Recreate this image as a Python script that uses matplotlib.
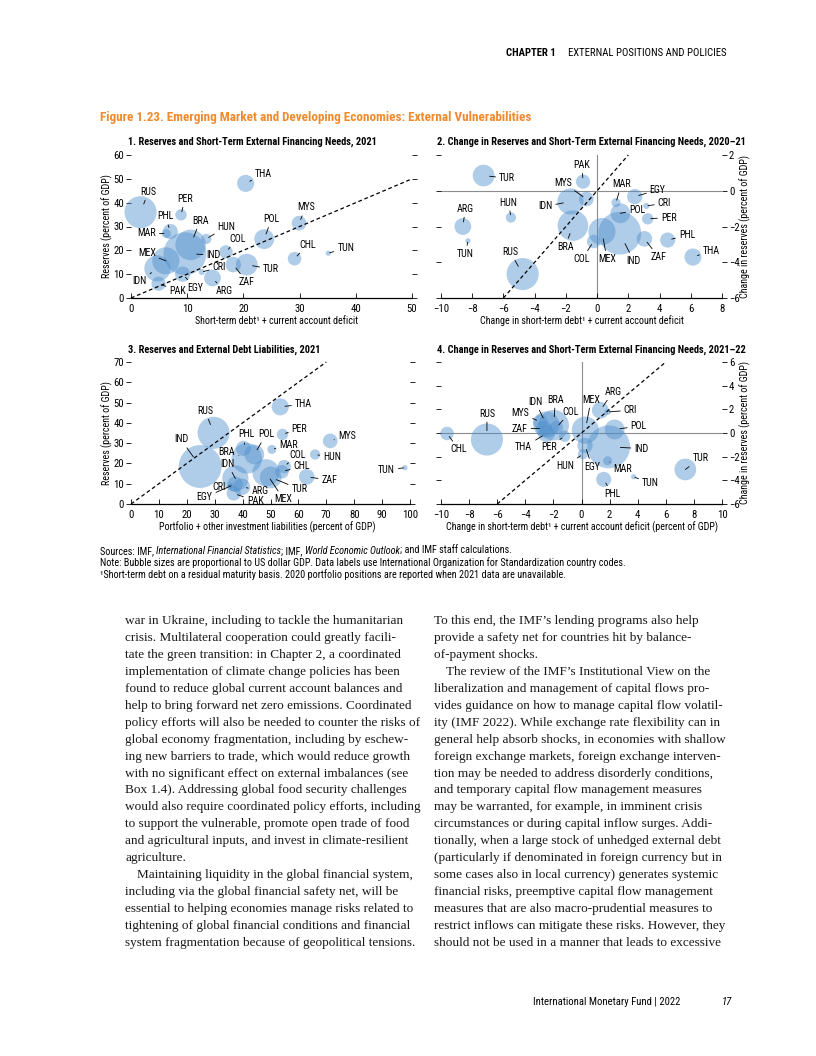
import os
import numpy as np
import matplotlib
matplotlib.use("Agg")
import matplotlib.pyplot as plt
from matplotlib import font_manager as fm

# ------------------------------------------------------------------ data
codes = ["ARG", "BRA", "CHL", "COL", "CRI", "EGY", "HUN", "IDN", "IND", "MAR", "MEX",
         "MYS", "PAK", "PER", "PHL", "POL", "RUS", "THA", "TUN", "TUR", "ZAF"]
gdp_bn = [487, 1609, 317, 314, 64, 404, 182, 1186, 3176, 142, 1273,
          373, 348, 223, 394, 679, 1779, 506, 47, 815, 419]

# Panel 1: short-term debt + CA deficit vs reserves, 2021 (% of GDP)
p1_x = [14.5, 10.6, 29.1, 16.9, 12.6, 9.2, 13.4, 4.7, 9.6, 6.3, 6.2,
        29.9, 4.9, 8.9, 7.0, 23.7, 1.7, 20.4, 35.1, 20.6, 18.2]
p1_y = [8.4, 22.3, 16.5, 19.3, 10.9, 10.0, 24.8, 12.4, 18.6, 27.0, 15.6,
        31.4, 6.0, 34.9, 27.9, 24.7, 36.0, 48.1, 18.8, 14.0, 14.0]

# Panel 2: changes 2020-21 (CHL not shown)
p2_x = [-8.6, -1.55, np.nan, -0.22, 3.15, 2.41, -5.52, -1.71, 1.45, 1.21, 0.31,
        -0.69, -0.9, 3.24, 4.52, 1.49, -4.77, 6.14, -8.27, -7.27, 3.03]
p2_y = [-2.0, -1.95, np.nan, -2.84, -0.85, -0.33, -1.5, -0.6, -2.37, -0.66, -2.28,
        -0.46, 0.51, -1.57, -2.76, -1.26, -4.66, -3.71, -2.8, 0.85, -2.69]

# Panel 3: portfolio + other investment liabilities vs reserves, 2021
p3_x = [39.7, 41.5, 54.1, 54.9, 35.8, 37.3, 66.0, 37.4, 24.8, 50.5, 48.4,
        71.4, 36.8, 54.3, 40.3, 44.2, 29.6, 53.5, 98.2, 50.1, 63.0]
p3_y = [8.5, 22.5, 15.9, 18.4, 9.0, 9.8, 24.4, 12.6, 18.5, 26.9, 15.4,
        31.1, 5.2, 34.3, 27.4, 24.4, 35.1, 47.9, 17.9, 13.1, 13.4]

# Panel 4: changes 2021-22 (PAK not shown)
p4_x = [1.34, -1.98, -9.57, -1.79, 1.86, 0.25, 0.1, -2.5, 1.93, 1.86, 0.27,
        -2.93, np.nan, -1.2, 1.58, 2.36, -6.73, -2.5, 3.71, 7.39, -2.69]
p4_y = [1.92, 0.66, -0.04, 0.46, 1.78, -1.05, -1.79, 0.72, -1.17, -2.35, 0.24,
        0.94, np.nan, -0.27, -3.92, 0.3, -0.55, -0.04, -3.7, -3.08, 0.38]

panel_titles = [
    "1. Reserves and Short-Term External Financing Needs, 2021",
    "2. Change in Reserves and Short-Term External Financing Needs, 2020\u201321",
    "3. Reserves and External Debt Liabilities, 2021",
    "4. Change in Reserves and Short-Term External Financing Needs, 2021\u201322",
]
x_labels = [
    "Short-term debt\u00b9 + current account deficit",
    "Change in short-term debt\u00b9 + current account deficit",
    "Portfolio + other investment liabilities (percent of GDP)",
    "Change in short-term debt\u00b9 + current account deficit (percent of GDP)",
]
y_labels = ["Reserves (percent of GDP)", "Change in reserves (percent of GDP)",
            "Reserves (percent of GDP)", "Change in reserves (percent of GDP)"]
x_ticks = [list(range(0, 51, 10)), list(range(-10, 9, 2)),
           list(range(0, 101, 10)), list(range(-10, 11, 2))]
y_ticks = [list(range(0, 61, 10)), list(range(-6, 3, 2)),
           list(range(0, 71, 10)), list(range(-6, 7, 2))]
ref_lines = [[0, 50], [-6, 2], [0, 70], [-6, 6]]   # 45-degree reference lines

fig_title = "Figure 1.23. Emerging Market and Developing Economies: External Vulnerabilities"
notes = [
    [("Sources: IMF, ", "normal"), ("International Financial Statistics", "italic"),
     ("; IMF, ", "normal"), ("World Economic Outlook", "italic"),
     ("; and IMF staff calculations.", "normal")],
    [("Note: Bubble sizes are proportional to US dollar GDP. Data labels use International "
      "Organization for Standardization country codes.", "normal")],
    [("\u00b9Short-term debt on a residual maturity basis. 2020 portfolio positions are "
      "reported when 2021 data are unavailable.", "normal")],
]

left_col = [
    "war in Ukraine, including to tackle the humanitarian",
    "crisis. Multilateral cooperation could greatly facili-",
    "tate the green transition: in Chapter 2, a coordinated",
    "implementation of climate change policies has been",
    "found to reduce global current account balances and",
    "help to bring forward net zero emissions. Coordinated",
    "policy efforts will also be needed to counter the risks of",
    "global economy fragmentation, including by eschew-",
    "ing new barriers to trade, which would reduce growth",
    "with no significant effect on external imbalances (see",
    "Box 1.4). Addressing global food security challenges",
    "would also require coordinated policy efforts, including",
    "to support the vulnerable, promote open trade of food",
    "and agricultural inputs, and invest in climate-resilient",
    "agriculture.",
    "\tMaintaining liquidity in the global financial system,",
    "including via the global financial safety net, will be",
    "essential to helping economies manage risks related to",
    "tightening of global financial conditions and financial",
    "system fragmentation because of geopolitical tensions.",
]
right_col = [
    "To this end, the IMF\u2019s lending programs also help",
    "provide a safety net for countries hit by balance-",
    "of-payment shocks.",
    "\tThe review of the IMF\u2019s Institutional View on the",
    "liberalization and management of capital flows pro-",
    "vides guidance on how to manage capital flow volatil-",
    "ity (IMF 2022). While exchange rate flexibility can in",
    "general help absorb shocks, in economies with shallow",
    "foreign exchange markets, foreign exchange interven-",
    "tion may be needed to address disorderly conditions,",
    "and temporary capital flow management measures",
    "may be warranted, for example, in imminent crisis",
    "circumstances or during capital inflow surges. Addi-",
    "tionally, when a large stock of unhedged external debt",
    "(particularly if denominated in foreign currency but in",
    "some cases also in local currency) generates systemic",
    "financial risks, preemptive capital flow management",
    "measures that are also macro-prudential measures to",
    "restrict inflows can mitigate these risks. However, they",
    "should not be used in a manner that leads to excessive",
]

# ------------------------------------------------------------------ layout (label positions, data coords)
lab1 = {"ARG": (16.6, 2.8), "BRA": (12.3, 32.4), "CHL": (31.4, 22.3), "COL": (18.9, 24.7),
        "CRI": (15.7, 12.8), "EGY": (11.4, 4.2), "HUN": (17.0, 30.0), "IDN": (1.5, 7.0),
        "IND": (14.7, 18.1), "MAR": (2.8, 27.1), "MEX": (2.8, 18.8), "MYS": (31.1, 38.0),
        "PAK": (8.3, 3.1), "PER": (9.6, 41.6), "PHL": (6.1, 34.2), "POL": (25.0, 33.1),
        "RUS": (3.1, 44.6), "THA": (23.6, 52.0), "TUN": (38.2, 20.9), "TUR": (24.9, 12.1),
        "ZAF": (20.6, 6.7)}
lab2 = {"ARG": (-8.44, -1.01), "BRA": (-2.04, -3.12), "COL": (-0.97, -3.82), "CRI": (4.31, -0.70),
        "EGY": (3.88, 0.05), "HUN": (-5.67, -0.66), "IDN": (-3.32, -0.88), "IND": (2.34, -3.92),
        "MAR": (1.55, 0.36), "MEX": (0.63, -3.82), "MYS": (-2.18, 0.46), "PAK": (-0.97, 1.44),
        "PER": (4.58, -1.5), "PHL": (5.76, -2.5), "POL": (2.56, -1.09), "RUS": (-5.56, -3.43),
        "THA": (7.32, -3.36), "TUN": (-8.44, -3.53), "TUR": (-5.77, 0.70), "ZAF": (3.94, -3.71)}
lab3 = {"ARG": (46.3, 6.6), "BRA": (34.4, 25.7), "CHL": (61.2, 18.7), "COL": (59.7, 24.4),
        "CRI": (31.4, 8.5), "EGY": (26.4, 3.3), "HUN": (72.0, 23.0), "IDN": (34.6, 19.7),
        "IND": (17.9, 31.8), "MAR": (56.4, 29.0), "MEX": (54.7, 2.3), "MYS": (77.3, 33.4),
        "PAK": (44.5, 1.6), "PER": (60.4, 37.2), "PHL": (41.3, 34.3), "POL": (48.4, 34.3),
        "RUS": (26.6, 45.9), "THA": (61.8, 49.2), "TUN": (91.6, 16.7), "TUR": (60.4, 7.4),
        "ZAF": (71.1, 11.8)}
lab4 = {"ARG": (2.24, 3.47), "BRA": (-1.86, 2.82), "CHL": (-8.74, -1.39), "COL": (-0.79, 1.78),
        "CRI": (3.48, 1.92), "EGY": (0.75, -2.85), "HUN": (-1.15, -2.8), "IDN": (-3.29, 2.63),
        "IND": (4.26, -1.31), "MAR": (2.93, -3.08), "MEX": (0.68, 2.82), "MYS": (-4.35, 1.70),
        "PER": (-2.34, -1.22), "PHL": (2.17, -5.16), "POL": (4.07, 0.58), "RUS": (-6.73, 1.64),
        "THA": (-4.12, -1.22), "TUN": (4.9, -4.26), "TUR": (8.46, -2.15), "ZAF": (-4.4, 0.38)}


# ------------------------------------------------------------------ fonts
def font_ok(name):
    try:
        fm.findfont(fm.FontProperties(family=name), fallback_to_default=False)
        return True
    except Exception:
        return False


def classify(path):
    n = os.path.basename(path).lower()
    bad = any(w in n for w in ["light", "thin", "medium", "black", "semi", "extra", "mono",
                               "serif", "display", "ui"])
    bold = "bold" in n
    ital = "italic" in n or "oblique" in n
    return bold, ital, bad


def find_condensed():
    prefixes = ["liberationsansnarrow", "robotocondensed", "notosans-condensed",
                "opensans-condensed", "opensanscondensed", "dejavusanscondensed"]
    files = [f.fname for f in fm.fontManager.ttflist]
    for p in prefixes:
        cand = [f for f in files if os.path.basename(f).lower().startswith(p)]
        found = {}
        for f in cand:
            b, it, bad = classify(f)
            if bad:
                continue
            found.setdefault((b, it), f)
        if (False, False) in found and (True, False) in found:
            reg = found[(False, False)]
            return {"reg": reg, "bold": found[(True, False)],
                    "ital": found.get((False, True), reg)}
    return None


COND = find_condensed()
SANS = "Liberation Sans" if font_ok("Liberation Sans") else "DejaVu Sans"
SERIF = "Liberation Serif" if font_ok("Liberation Serif") else "DejaVu Serif"
plt.rcParams["font.family"] = [SANS, "DejaVu Sans"]


def fp(kind="reg", size=8.0):
    if COND is not None:
        p = fm.FontProperties(fname=COND[kind])
    elif kind == "bold":
        p = fm.FontProperties(family=SANS, weight="bold")
    elif kind == "ital":
        p = fm.FontProperties(family=SANS, style="italic")
    else:
        p = fm.FontProperties(family=SANS)
    p.set_size(size)
    return p


def fps(size=8.0):
    return fm.FontProperties(family=SERIF, size=size)


W, H = 816, 1056
fig = plt.figure(figsize=(W / 100, H / 100), dpi=100)
renderer = fig.canvas.get_renderer()


def tw(s, prop):
    t = fig.text(0, 0, "|" + s + "|", fontproperties=prop)
    w1 = t.get_window_extent(renderer).width
    t.set_text("||")
    w0 = t.get_window_extent(renderer).width
    t.remove()
    return w1 - w0


def fit(s, target, kind="reg", serif=False):
    prop = fps(10.0) if serif else fp(kind, 10.0)
    return 10.0 * target / tw(s, prop)


def ptext(x, y, s, prop, **kw):
    return fig.text(x / W, 1 - y / H, s, fontproperties=prop, **kw)


S_LAB = fit("THA", 17.0)
S_TICK = fit("50", 10.5)
S_PTITLE = fit(panel_titles[0], 250, "bold")
S_AXLAB = fit(x_labels[3], 272)
S_FTITLE = fit(fig_title, 431, "bold")
S_NOTE = fit(notes[1][0][0], 517)
S_BODY = fit(left_col[0], 279, serif=True)
S_HEAD = fit("EXTERNAL POSITIONS AND POLICIES", 157)
S_FOOT = fit("International Monetary Fund | 2022", 145)

BUBBLE = "#4f8fcc"
SIZE_SCALE = 0.30


def add_axes_px(x0, x1, ytop, ybot):
    return fig.add_axes([x0 / W, 1 - ybot / H, (x1 - x0) / W, (ybot - ytop) / H])


def fmt(v):
    return ("\u2212" + str(abs(v))) if v < 0 else str(v)


axes = [add_axes_px(131, 412, 155, 298), add_axes_px(441, 722, 155, 298),
        add_axes_px(131, 410, 362, 504), add_axes_px(441, 722, 362, 504)]
xs_all = [p1_x, p2_x, p3_x, p4_x]
ys_all = [p1_y, p2_y, p3_y, p4_y]
labs_all = [lab1, lab2, lab3, lab4]
label_side = ["left", "right", "left", "right"]

sizes = np.array(gdp_bn, float) * SIZE_SCALE

for i, ax in enumerate(axes):
    xt, yt = x_ticks[i], y_ticks[i]
    ax.set_xlim(xt[0], xt[-1])
    ax.set_ylim(yt[0], yt[-1])
    ax.set_facecolor("none")
    for s in ["top", "left", "right"]:
        ax.spines[s].set_visible(False)
    ax.spines["bottom"].set_linewidth(0.9)
    ax.set_xticks(xt, [fmt(v) for v in xt], fontproperties=fp("reg", S_TICK))
    ax.set_yticks(yt, [fmt(v) for v in yt], fontproperties=fp("reg", S_TICK))
    ax.tick_params(axis="y", left=True, right=True, direction="out", length=3.5, width=0.6,
                   labelleft=(label_side[i] == "left"),
                   labelright=(label_side[i] == "right"), pad=1.5)
    ax.tick_params(axis="x", direction="in", length=3.5, width=0.6, pad=4)

    if label_side[i] == "right":
        ax.axhline(0, color="#8c8c8c", lw=0.8, zorder=1)
        ax.axvline(0, color="#8c8c8c", lw=0.8, zorder=1)

    ax.plot(ref_lines[i], ref_lines[i], color="black", lw=0.9, dashes=(3, 2.2), zorder=4,
            clip_on=False)

    x = np.array(xs_all[i], float)
    y = np.array(ys_all[i], float)
    m = ~np.isnan(x)
    order = [k for k in np.argsort(-sizes) if m[k]]
    ax.scatter(x[order], y[order], s=sizes[order], color=BUBBLE, alpha=0.45,
               linewidths=0, clip_on=False, zorder=3)

    for k, code in enumerate(codes):
        if not m[k]:
            continue
        lx, ly = labs_all[i][code]
        r = np.sqrt(sizes[k]) / 2
        ax.annotate(code, (x[k], y[k]), xytext=(lx, ly), textcoords="data",
                    ha="center", va="center", fontproperties=fp("reg", S_LAB), zorder=6,
                    annotation_clip=False,
                    arrowprops=dict(arrowstyle="-", lw=0.6, color="black",
                                    shrinkA=0.5, shrinkB=r * 0.55))

# panel titles
for (px, py), t in zip([(128, 142), (437, 142), (128, 350), (437, 350)], panel_titles):
    ptext(px, py, t, fp("bold", S_PTITLE), ha="left", va="center")

# axis labels
for (px, py), t in zip([(277, 321), (582, 321), (267, 527), (582, 527)], x_labels):
    ptext(px, py, t, fp("reg", S_AXLAB), ha="center", va="center")
for (px, py), t in zip([(107, 226.5), (745, 226.5), (107, 433), (745, 433)], y_labels):
    ptext(px, py, t, fp("reg", S_AXLAB), ha="center", va="center", rotation=90)

# figure title
ptext(100, 117, fig_title, fp("bold", S_FTITLE), color="#f08a2c", ha="left", va="center")

# notes
for line, yy in zip(notes, [551, 563, 575]):
    xx = 100
    for seg, style in line:
        prop = fp("ital" if style == "italic" else "reg", S_NOTE)
        ptext(xx, yy, seg, prop, ha="left", va="center")
        xx += tw(seg, prop)

# header
ptext(556, 52.5, "CHAPTER 1", fp("bold", S_HEAD), ha="right", va="center")
ptext(726, 52.5, "EXTERNAL POSITIONS AND POLICIES", fp("reg", S_HEAD), ha="right", va="center")

# body text
for col, x0 in [(left_col, 125), (right_col, 434)]:
    for j, line in enumerate(col):
        xx = x0
        if line.startswith("\t"):
            line = line[1:]
            xx += 12
        ptext(xx, 624 + j * 16.95, line, fps(S_BODY), ha="left", va="baseline",
              color="#1a1a1a")

# footer
ptext(680, 1002, "International Monetary Fund | 2022", fp("reg", S_FOOT), ha="right",
      va="center")
ptext(722, 1002, "17", fp("ital", S_FOOT), ha="left", va="center")

fig.savefig("out.png", dpi=100)
